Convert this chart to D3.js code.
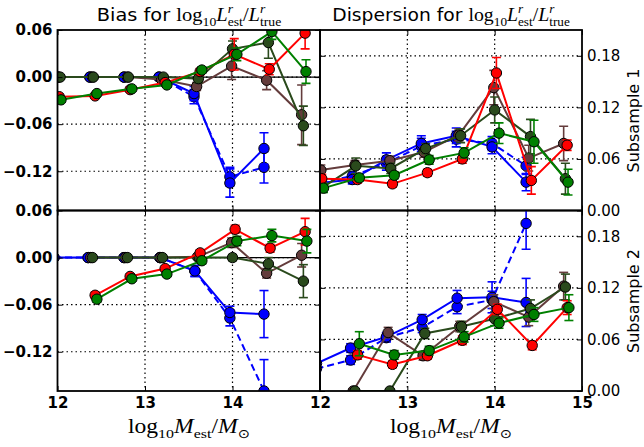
<!DOCTYPE html>
<html><head><meta charset="utf-8">
<script src="https://cdn.jsdelivr.net/npm/d3@7"></script>
<style>body{margin:0;background:#fff}svg{display:block}</style>
</head><body><svg id="c" width="644" height="447"></svg>
<script>
// ---------- data ----------
const xTicks = [12, 13, 14, 15];
const biasTicks = [0.06, 0.00, -0.06, -0.12];
const dispTicks = [0.00, 0.06, 0.12, 0.18];
const biasDomain = [-0.17, 0.06];
const dispDomain = [0, 0.21];

// subsample 1: bin masses per series
const m1Red   = [12.02, 12.43, 12.83, 13.23, 13.63, 14.02, 14.42, 14.83];
const m1Green = [12.04, 12.45, 12.85, 13.25, 13.65, 14.05, 14.45, 14.84];
const m1Brown = [12.01, 12.40, 12.80, 13.19, 13.59, 13.99, 14.39, 14.79];
const m1Dark  = [12.03, 12.41, 12.81, 13.21, 13.61, 14.00, 14.41, 14.81];
const m1Blue  = [12.00, 12.37, 12.76, 13.16, 13.56, 13.97, 14.36];

// subsample 1 bias
const b1Red      = [-0.025, -0.024, -0.016, -0.007, 0.007, 0.029, 0.010, 0.056];
const b1Green    = [-0.029, -0.021, -0.015, -0.010, 0.009, 0.029, 0.058, 0.007];
const b1Brown    = [0, 0, 0, -0.003, -0.012, 0.014, -0.004, -0.048];
const b1Dark     = [0, 0, 0, 0, -0.002, 0.036, 0.044, -0.062];
const b1Blue     = [0, 0, 0, 0, -0.021, -0.135, -0.091];
const b1BlueDash = [0, 0, 0, 0, -0.025, -0.127, -0.115];
const b1RedErr      = [0.003, 0.003, 0.003, 0.003, 0.004, 0.020, 0.007, 0.020];
const b1GreenErr    = [0.003, 0.003, 0.003, 0.003, 0.004, 0.008, 0.010, 0.015];
const b1BrownErr    = [0.002, 0.002, 0.002, 0.003, 0.005, 0.017, 0.012, 0.038];
const b1DarkErr     = [0.002, 0.002, 0.002, 0.003, 0.005, 0.010, 0.020, 0.025];
const b1BlueErr     = [0.002, 0.002, 0.002, 0.003, 0.009, 0.018, 0.020];
const b1BlueDashErr = [0.002, 0.002, 0.002, 0.003, 0.009, 0.012, 0.020];

// subsample 1 dispersion
const d1Red      = [0.037, 0.036, 0.031, 0.044, 0.060, 0.160, 0.035, 0.076];
const d1Green    = [0.026, 0.038, 0.041, 0.059, 0.067, 0.090, 0.080, 0.033];
const d1Brown    = [0.047, 0.053, 0.058, 0.068, 0.088, 0.143, 0.061, 0.078];
const d1Dark     = [0.027, 0.052, 0.049, 0.072, 0.087, 0.117, 0.086, 0.037];
const d1Blue     = [0.032, 0.036, 0.059, 0.078, 0.087, 0.074, 0.033];
const d1BlueDash = [0.033, 0.040, 0.055, 0.075, 0.083, 0.078, 0.052];
const d1RedErr      = [0.005, 0.004, 0.004, 0.004, 0.005, 0.018, 0.016, 0.006];
const d1GreenErr    = [0.005, 0.004, 0.004, 0.005, 0.006, 0.012, 0.025, 0.015];
const d1BrownErr    = [0.006, 0.005, 0.005, 0.006, 0.007, 0.020, 0.015, 0.020];
const d1DarkErr     = [0.006, 0.009, 0.006, 0.006, 0.008, 0.015, 0.020, 0.018];
const d1BlueErr     = [0.004, 0.005, 0.008, 0.009, 0.009, 0.008, 0.010];
const d1BlueDashErr = [0.004, 0.005, 0.008, 0.009, 0.009, 0.008, 0.010];

// subsample 2: bin masses per series
const m2Red   = [12.43, 12.83, 13.23, 13.63, 14.03, 14.43, 14.83];
const m2Green = [12.45, 12.85, 13.25, 13.65, 14.05, 14.45, 14.85];
const m2Brown = [12.38, 12.78, 13.18, 13.60, 13.99, 14.39, 14.79];
const m2Dark  = [12.40, 12.80, 13.20, 13.62, 14.00, 14.41, 14.81];
const m2Blue  = [11.96, 12.35, 12.76, 13.17, 13.57, 13.97, 14.36];

// subsample 2 bias
const b2Red      = [-0.048, -0.024, -0.014, 0.006, 0.036, 0.012, 0.033];
const b2Green    = [-0.053, -0.027, -0.021, -0.004, 0.021, 0.028, 0.021];
const b2Brown    = [0, 0, 0, 0.001, 0.019, -0.020, 0.003];
const b2Dark     = [0, 0, 0, 0, 0.000, -0.008, -0.030];
const b2Blue     = [0, 0, 0, 0, -0.017, -0.070, -0.072];
const b2BlueDash = [0, 0, 0, 0, -0.017, -0.077, -0.170];
const b2RedErr      = [0.004, 0.003, 0.003, 0.004, 0.005, 0.005, 0.017];
const b2GreenErr    = [0.004, 0.003, 0.003, 0.004, 0.006, 0.008, 0.015];
const b2BrownErr    = [0.002, 0.002, 0.002, 0.003, 0.006, 0.006, 0.015];
const b2DarkErr     = [0.002, 0.002, 0.002, 0.003, 0.004, 0.008, 0.021];
const b2BlueErr     = [0.002, 0.002, 0.002, 0.003, 0.007, 0.008, 0.030];
const b2BlueDashErr = [0.002, 0.002, 0.002, 0.003, 0.007, 0.010, 0.040];

// subsample 2 dispersion
const d2Red      = [0.042, 0.031, 0.041, 0.059, 0.095, 0.053, 0.097];
const d2Green    = [0.055, 0.042, 0.047, 0.063, 0.079, 0.089, 0.097];
const d2Brown    = [0.000, 0.068, 0.041, 0.075, 0.104, 0.086, 0.122];
const d2Dark     = [0.000, 0.000, 0.067, 0.075, 0.084, 0.096, 0.121];
const d2Blue     = [0.032, 0.050, 0.063, 0.083, 0.108, 0.109, 0.103];
const d2BlueDash = [0.026, 0.036, 0.062, 0.074, 0.098, 0.106, 0.195];
const d2RedErr      = [0.005, 0.004, 0.004, 0.005, 0.006, 0.005, 0.008];
const d2GreenErr    = [0.014, 0.005, 0.005, 0.006, 0.006, 0.008, 0.015];
const d2BrownErr    = [0.002, 0.006, 0.005, 0.006, 0.008, 0.010, 0.016];
const d2DarkErr     = [0.002, 0.002, 0.006, 0.006, 0.008, 0.010, 0.015];
const d2BlueErr     = [0.004, 0.005, 0.005, 0.006, 0.009, 0.018, 0.028];
const d2BlueDashErr = [0.004, 0.005, 0.005, 0.006, 0.008, 0.010, 0.030];

// ---------- styles ----------
const styles = {
  blueDash: {color: "#0000ff", dash: "7,4"},
  blue:     {color: "#0000ff", dash: null},
  brown:    {color: "#643c3c", dash: null},
  dark:     {color: "#2a4a1c", dash: null},
  red:      {color: "#ff0000", dash: null},
  green:    {color: "#008000", dash: null}
};
const SANS = "'DejaVu Sans', sans-serif";
const SERIF = "'Liberation Serif', 'DejaVu Serif', serif";

function makeSeries(xs, ys, es, key) {
  return {key, pts: xs.slice(0, ys.length).map((x, i) => ({x, y: ys[i], e: es[i]}))};
}
const panels = [
  {id: "tl", row: 0, col: 0, kind: "bias", series: [
    makeSeries(m1Blue, b1BlueDash, b1BlueDashErr, "blueDash"),
    makeSeries(m1Blue, b1Blue, b1BlueErr, "blue"),
    makeSeries(m1Brown, b1Brown, b1BrownErr, "brown"),
    makeSeries(m1Dark, b1Dark, b1DarkErr, "dark"),
    makeSeries(m1Red, b1Red, b1RedErr, "red"),
    makeSeries(m1Green, b1Green, b1GreenErr, "green")]},
  {id: "tr", row: 0, col: 1, kind: "disp", series: [
    makeSeries(m1Blue, d1BlueDash, d1BlueDashErr, "blueDash"),
    makeSeries(m1Blue, d1Blue, d1BlueErr, "blue"),
    makeSeries(m1Brown, d1Brown, d1BrownErr, "brown"),
    makeSeries(m1Dark, d1Dark, d1DarkErr, "dark"),
    makeSeries(m1Red, d1Red, d1RedErr, "red"),
    makeSeries(m1Green, d1Green, d1GreenErr, "green")]},
  {id: "bl", row: 1, col: 0, kind: "bias", series: [
    makeSeries(m2Blue, b2BlueDash, b2BlueDashErr, "blueDash"),
    makeSeries(m2Blue, b2Blue, b2BlueErr, "blue"),
    makeSeries(m2Brown, b2Brown, b2BrownErr, "brown"),
    makeSeries(m2Dark, b2Dark, b2DarkErr, "dark"),
    makeSeries(m2Red, b2Red, b2RedErr, "red"),
    makeSeries(m2Green, b2Green, b2GreenErr, "green")]},
  {id: "br", row: 1, col: 1, kind: "disp", series: [
    makeSeries(m2Blue, d2BlueDash, d2BlueDashErr, "blueDash"),
    makeSeries(m2Blue, d2Blue, d2BlueErr, "blue"),
    makeSeries(m2Brown, d2Brown, d2BrownErr, "brown"),
    makeSeries(m2Dark, d2Dark, d2DarkErr, "dark"),
    makeSeries(m2Red, d2Red, d2RedErr, "red"),
    makeSeries(m2Green, d2Green, d2GreenErr, "green")]}
];

// ---------- layout ----------
const colX = [[57.5, 320], [320, 582]];
const rowY = [[30, 210.5], [210.5, 391]];
const svg = d3.select("#c");

panels.forEach(p => {
  const [x0, x1] = colX[p.col], [y0, y1] = rowY[p.row];
  const bias = p.kind === "bias";
  const x = d3.scaleLinear().domain([12, 15]).range([x0, x1]);
  const y = d3.scaleLinear().domain(bias ? biasDomain : dispDomain).range([y1, y0]);
  const yt = bias ? biasTicks : dispTicks;
  const g = svg.append("g");
  g.append("clipPath").attr("id", "clip-" + p.id).append("rect")
    .attr("x", x0).attr("y", y0).attr("width", x1 - x0).attr("height", y1 - y0);

  // grid
  const grid = g.append("g").attr("stroke", "#000").attr("stroke-width", 1.2)
    .attr("stroke-dasharray", "1.5,3");
  grid.selectAll("line.gx").data(xTicks.filter(v => v > 12 && v < 15)).join("line")
    .attr("x1", d => x(d)).attr("x2", d => x(d)).attr("y1", y0).attr("y2", y1);
  grid.selectAll("line.gy").data(yt.filter(v => y(v) > y0 + 1 && y(v) < y1 - 1)).join("line")
    .attr("x1", x0).attr("x2", x1).attr("y1", d => y(d)).attr("y2", d => y(d));
  if (bias) {
    g.append("line").attr("x1", x0).attr("x2", x1).attr("y1", y(0)).attr("y2", y(0))
      .attr("stroke", "#000").attr("stroke-width", 1.2);
  }

  const plot = g.append("g").attr("clip-path", `url(#clip-${p.id})`);
  p.series.forEach(s => {
    const st = styles[s.key];
    const sg = plot.append("g");
    sg.append("path").datum(s.pts)
      .attr("d", d3.line().x(d => x(d.x)).y(d => y(d.y)))
      .attr("fill", "none").attr("stroke", st.color).attr("stroke-width", 2)
      .attr("stroke-dasharray", st.dash);
    const eb = sg.append("g").attr("stroke", st.color).attr("stroke-width", 1.6);
    s.pts.forEach(d => {
      const cx = x(d.x), ya = y(d.y + d.e), yb = y(d.y - d.e);
      eb.append("line").attr("x1", cx).attr("x2", cx).attr("y1", ya).attr("y2", yb);
      eb.append("line").attr("x1", cx - 4.5).attr("x2", cx + 4.5).attr("y1", ya).attr("y2", ya);
      eb.append("line").attr("x1", cx - 4.5).attr("x2", cx + 4.5).attr("y1", yb).attr("y2", yb);
    });
    sg.selectAll("circle").data(s.pts).join("circle")
      .attr("cx", d => x(d.x)).attr("cy", d => y(d.y)).attr("r", 5.2)
      .attr("fill", st.color).attr("stroke", "#000").attr("stroke-width", 1);
  });

  // inward ticks on all spines
  const tk = (axis, tx, ty, vals) => {
    const a = g.append("g").attr("transform", `translate(${tx},${ty})`)
      .call(axis.tickValues(vals).tickSizeInner(-5).tickSizeOuter(0).tickFormat(""));
    a.select(".domain").remove();
    a.selectAll("line").attr("stroke", "#000").attr("stroke-width", 1);
  };
  tk(d3.axisLeft(y), x0, 0, yt);
  tk(d3.axisRight(y), x1, 0, yt);
  tk(d3.axisTop(x), 0, y0, xTicks);
  tk(d3.axisBottom(x), 0, y1, xTicks);

  // frame
  g.append("rect").attr("x", x0).attr("y", y0).attr("width", x1 - x0).attr("height", y1 - y0)
    .attr("fill", "none").attr("stroke", "#000").attr("stroke-width", 1.8);

  // tick labels
  const fmt = d3.format(".2f");
  if (p.col === 0) {
    const a = g.append("g").attr("transform", `translate(${x0},0)`)
      .call(d3.axisLeft(y).tickValues(yt).tickSize(0).tickPadding(5).tickFormat(fmt));
    a.select(".domain").remove();
    a.selectAll("text").attr("font-family", SANS).attr("font-size", 15).attr("font-weight", "bold").attr("fill", "#000");
  } else {
    const a = g.append("g").attr("transform", `translate(${x1},0)`)
      .call(d3.axisRight(y).tickValues(yt).tickSize(0).tickPadding(5).tickFormat(fmt));
    a.select(".domain").remove();
    a.selectAll("text").attr("font-family", SANS).attr("font-size", 15).attr("fill", "#000");
  }
  if (p.row === 1) {
    const xv = p.col === 0 ? xTicks.slice(0, 3) : xTicks;
    const a = g.append("g").attr("transform", `translate(0,${y1})`)
      .call(d3.axisBottom(x).tickValues(xv).tickSize(0).tickPadding(6.5).tickFormat(d3.format("d")));
    a.select(".domain").remove();
    a.selectAll("text").attr("font-family", SANS).attr("font-size", 15).attr("font-weight", "bold").attr("fill", "#000");
  }
});

// ---------- math-like text (one <text> with positioned tspans) ----------
function mathText(cx, by, runs, sx) {
  const tmp = svg.append("g");
  let cur = 0, prevStart = 0, prevEnd = 0;
  const starts = [];
  runs.forEach(r => {
    const start = r.stack ? prevStart : cur;
    const t = tmp.append("text").attr("font-family", r.fam).attr("font-size", r.size)
      .attr("font-style", r.italic ? "italic" : "normal").style("white-space", "pre").text(r.t);
    const w = t.node().getComputedTextLength();
    starts.push(start);
    if (r.stack) { cur = Math.max(prevEnd, start + w); }
    else { prevStart = start; prevEnd = start + w; cur = start + w; }
  });
  tmp.remove();
  const total = cur;
  const g = svg.append("g")
    .attr("transform", `translate(${cx},${by}) scale(${sx},1) translate(${-total / 2},0)`);
  const text = g.append("text").attr("fill", "#000").style("white-space", "pre");
  runs.forEach((r, i) => {
    text.append("tspan").attr("x", starts[i]).attr("y", r.shift || 0)
      .attr("font-family", r.fam).attr("font-size", r.size)
      .attr("font-style", r.italic ? "italic" : "normal").text(r.t);
  });
}
const titleMath = [
  {t: "log", fam: SERIF, size: 18},
  {t: "10", fam: SERIF, size: 12, shift: 5},
  {t: "L", fam: SERIF, size: 18, italic: true},
  {t: "r", fam: SERIF, size: 12, italic: true, shift: -8},
  {t: "est", fam: SERIF, size: 12, shift: 5.5, stack: true},
  {t: "/", fam: SERIF, size: 18},
  {t: "L", fam: SERIF, size: 18, italic: true},
  {t: "r", fam: SERIF, size: 12, italic: true, shift: -8},
  {t: "true", fam: SERIF, size: 12, shift: 5.5, stack: true}
];
mathText(189, 20.7, [{t: "Bias for ", fam: SANS, size: 17}].concat(titleMath), 1.14);
mathText(451, 20.7, [{t: "Dispersion for ", fam: SANS, size: 17}].concat(titleMath), 1.1);

const xLabel = [
  {t: "log", fam: SERIF, size: 20},
  {t: "10", fam: SERIF, size: 13.5, shift: 4.5},
  {t: "M", fam: SERIF, size: 20, italic: true},
  {t: "est", fam: SERIF, size: 13.5, shift: 4.5},
  {t: "/", fam: SERIF, size: 20},
  {t: "M", fam: SERIF, size: 20, italic: true},
  {t: "\u2299", fam: "'DejaVu Sans'", size: 12.5, shift: 4.5}
];
mathText(189, 433, xLabel, 1.18);
mathText(451, 433, xLabel, 1.18);

// right-side row labels
[["Subsample 1", 120.5], ["Subsample 2", 301]].forEach(([t, cy]) => {
  svg.append("text").attr("transform", `translate(638.5,${cy}) rotate(-90)`)
    .attr("text-anchor", "middle").attr("font-family", SANS).attr("font-size", 16)
    .attr("fill", "#000").text(t);
});
</script></body></html>
